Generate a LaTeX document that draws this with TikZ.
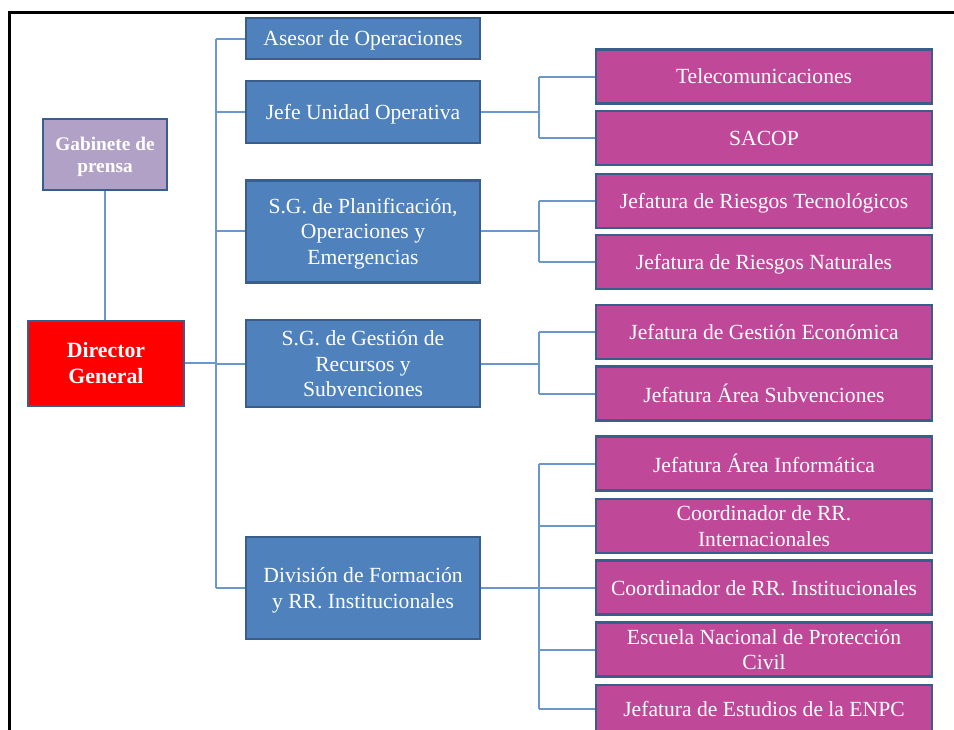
\documentclass[tikz,border=0pt]{standalone}
\usepackage{fontspec}
\setmainfont{Liberation Serif}
\definecolor{boxline}{RGB}{58,94,140}
\definecolor{bluefill}{RGB}{79,129,189}
\definecolor{pinkfill}{RGB}{192,72,152}
\definecolor{lavfill}{RGB}{178,161,199}
\definecolor{redfill}{RGB}{255,0,0}
\definecolor{connblue}{RGB}{108,150,206}
\begin{document}
\begin{tikzpicture}[x=1pt,y=-1pt,
  basebox/.style={draw=boxline, line width=2.4pt, inner sep=0pt, text=white,
    align=center, text depth=0pt, font=\fontsize{21.6}{25.5}\selectfont},
  bluebox/.style={basebox, fill=bluefill, minimum width=234pt},
  pinkbox/.style={basebox, fill=pinkfill, minimum width=336pt, minimum height=54pt},
  conn/.style={draw=connblue, line width=2pt}]
\useasboundingbox (0,0) rectangle (954,729);
\clip (0,0) rectangle (954,729);

% outer frame (open to the right and bottom)
\draw[line width=3pt] (9.75,760) -- (9.75,12.5) -- (980,12.5);

% left column
\node[basebox, fill=lavfill, minimum width=124pt, minimum height=71pt,
  font=\bfseries\fontsize{19.3}{22}\selectfont] (gab) at (105,154.5) {Gabinete de\\prensa};
\node[basebox, fill=redfill, minimum width=156pt, minimum height=85pt,
  font=\bfseries\fontsize{21.8}{26}\selectfont] (dir) at (106,363.3) {Director\\General};

% second level
\node[bluebox, minimum height=41pt] (ases) at (363,38.5) {Asesor de Operaciones};
\node[bluebox, minimum height=62pt] (jefe) at (363,112) {Jefe Unidad Operativa};
\node[bluebox, minimum height=102pt] (plan) at (363,231.3) {S.G. de Planificación,\\Operaciones y\\Emergencias};
\node[bluebox, minimum height=87pt] (gest) at (363,363.5) {S.G. de Gestión de\\Recursos y\\Subvenciones};
\node[bluebox, minimum height=102pt] (divi) at (363,588) {División de Formación\\y RR. Institucionales};

% third level
\node[pinkbox] (tele) at (764,76.5) {Telecomunicaciones};
\node[pinkbox] (sacop) at (764,138) {SACOP};
\node[pinkbox] (rtec) at (764,201) {Jefatura de Riesgos Tecnológicos};
\node[pinkbox] (rnat) at (764,262) {Jefatura de Riesgos Naturales};
\node[pinkbox] (geco) at (764,332) {Jefatura de Gestión Económica};
\node[pinkbox] (subv) at (764,393.5) {Jefatura Área Subvenciones};
\node[pinkbox] (info) at (764,463.5) {Jefatura Área Informática};
\node[pinkbox] (intl) at (764,526) {Coordinador de RR.\\Internacionales};
\node[pinkbox] (inst) at (764,587.5) {Coordinador de RR. Institucionales};
\node[pinkbox] (escu) at (764,649.5) {Escuela Nacional de Protección\\Civil};
\node[pinkbox, minimum height=48pt] (estu) at (764,709) {Jefatura de Estudios de la ENPC};

% trunk positions
\coordinate (tr) at (216,0);
\coordinate (st) at (539,0);

% main trunk and its branches
\draw[conn] (gab.south) -- (gab.south |- dir.north);
\draw[conn] (dir.east) -- (dir.east -| tr);
\draw[conn] (ases.west -| tr) -- (divi.west -| tr);
\foreach \b in {ases,jefe,plan,gest,divi}
  \draw[conn] (\b.west) -- (\b.west -| tr);

% sub trunks
\draw[conn] (jefe.east) -- (jefe.east -| st);
\draw[conn] (tele.west -| st) -- (sacop.west -| st);
\draw[conn] (plan.east) -- (plan.east -| st);
\draw[conn] (rtec.west -| st) -- (rnat.west -| st);
\draw[conn] (gest.east) -- (gest.east -| st);
\draw[conn] (geco.west -| st) -- (subv.west -| st);
\draw[conn] (divi.east) -- (divi.east -| st);
\draw[conn] (info.west -| st) -- (estu.west -| st);
\foreach \b in {tele,sacop,rtec,rnat,geco,subv,info,intl,inst,escu,estu}
  \draw[conn] (\b.west) -- (\b.west -| st);
\end{tikzpicture}
\end{document}
